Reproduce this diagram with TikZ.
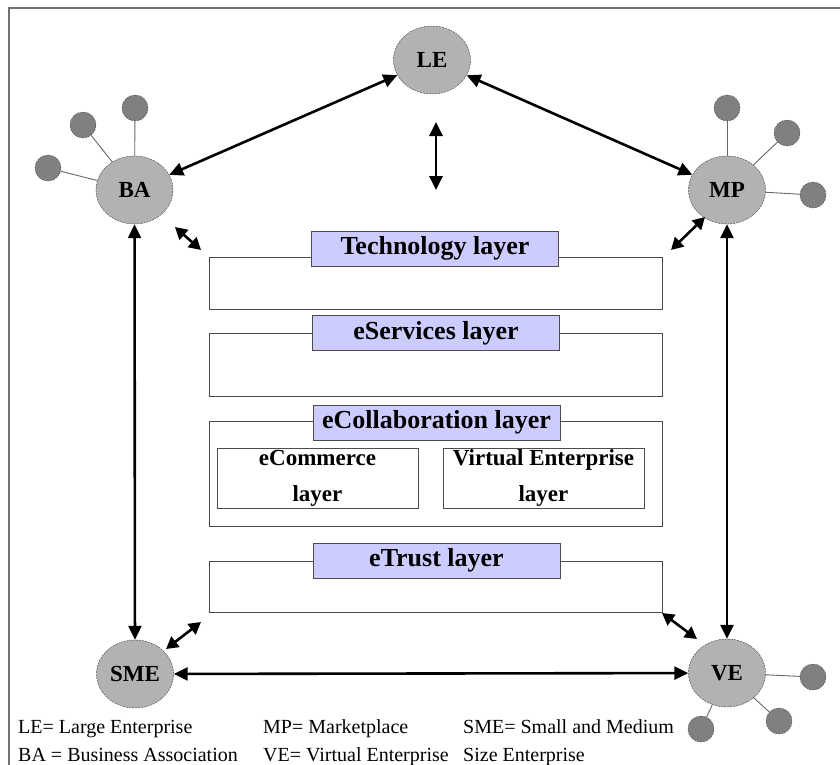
\documentclass[tikz,border=0pt]{standalone}
\usepackage{fontspec}
\setmainfont{Liberation Serif}
\usepackage{tikz}
\usetikzlibrary{arrows.meta}
\usetikzlibrary{shapes.geometric}
\definecolor{laybg}{RGB}{204,204,255}
\newcommand{\keyfont}{\fontsize{20}{24}\selectfont}

\begin{document}
\begin{tikzpicture}[x=1pt,y=-1pt,
    party/.style={ellipse,draw=black!75,dash pattern=on 2pt off 1pt,fill=black!30,minimum width=77pt,minimum height=68pt,inner sep=0pt,font=\fontsize{23}{27}\selectfont\bfseries},
    sat/.style={circle,draw=black!75,dash pattern=on 2pt off 1pt,fill=black!50,minimum size=26pt,inner sep=0pt},
    link/.style={draw=black!60,line width=0.9pt},
    dbl/.style={{Triangle[length=14pt,width=13pt]}-{Triangle[length=14pt,width=13pt]},line width=2.6pt},
    sdbl/.style={{Triangle[length=12pt,width=13pt]}-{Triangle[length=12pt,width=13pt]},line width=2.6pt},
    layerbox/.style={draw=black!70,line width=1pt,fill=white,minimum width=453pt,inner sep=0pt},
    laylbl/.style={draw=black!70,fill=laybg,line width=1pt,minimum width=247pt,minimum height=35pt,inner sep=0pt,font=\fontsize{26}{30}\selectfont\bfseries},
    subbox/.style={draw=black!70,line width=1pt,minimum width=201pt,minimum height=60pt,inner sep=0pt,align=center,font=\fontsize{23}{36}\selectfont\bfseries}]
    \useasboundingbox (0,0) rectangle (840,765);
    \draw[black!55,line width=1.5pt] (9,765) -- (9,8) -- (840,8);

    % the five parties
    \node[party] (LE) at (432,60) {LE};
    \node[party] (BA) at (134.5,190) {BA};
    \node[party] (MP) at (727,190) {MP};
    \node[party] (SME) at (135,674) {SME};
    \node[party] (VE) at (727,673) {VE};

    % members
    \node[sat] (ba1) at (135,108) {};
    \node[sat] (ba2) at (83,125) {};
    \node[sat] (ba3) at (48,168) {};
    \node[sat] (mp1) at (727,108) {};
    \node[sat] (mp2) at (787,133) {};
    \node[sat] (mp3) at (813,195) {};
    \node[sat] (ve1) at (813,677) {};
    \node[sat] (ve2) at (779,721) {};
    \node[sat] (ve3) at (701,729) {};
    \path[link] (ba1) -- (BA);
    \path[link] (ba2) -- (BA);
    \path[link] (ba3) -- (BA);
    \path[link] (mp1) -- (MP);
    \path[link] (mp2) -- (MP);
    \path[link] (mp3) -- (MP);
    \path[link] (ve1) -- (VE);
    \path[link] (ve2) -- (VE);
    \path[link] (ve3) -- (VE);

    % layers
    \node[layerbox,minimum height=52pt] (T) at (435.5,283) {};
    \node[laylbl] (Tl) at (435,248.5) {Technology layer};
    \node[layerbox,minimum height=63pt] (S) at (435.5,364.5) {};
    \node[laylbl] (Sl) at (436,333) {eServices layer};
    \node[layerbox,minimum height=105pt] (C) at (435.5,473.5) {};
    \node[laylbl] (Cl) at (436.5,422.5) {eCollaboration layer};
    \node[subbox] (EC) at (317.5,478) {eCommerce\\layer};
    \node[subbox] (VL) at (543.5,478) {Virtual Enterprise\\layer};
    \node[layerbox,minimum height=51pt] (R) at (435.5,586.5) {};
    \node[laylbl] (Rl) at (436.5,560.5) {eTrust layer};

    % relations
    \path[dbl] (BA) edge (LE);
    \path[dbl] (LE) edge (MP);
    \path[dbl] (BA) edge (SME);
    \path[dbl] (MP) edge (VE);
    \path[dbl] (SME) edge (VE);
    \coordinate (le1) at (436,122);
    \coordinate (le2) at (436,190);
    \path[dbl] (le1) edge (le2);
    \coordinate (ba4) at (175,227);
    \coordinate (ba5) at (201,250);
    \path[sdbl] (ba4) edge (ba5);
    \coordinate (mp4) at (705,217);
    \coordinate (mp5) at (671,250);
    \path[sdbl] (mp4) edge (mp5);
    \coordinate (sme1) at (166,649);
    \coordinate (sme2) at (201,622);
    \path[sdbl] (sme1) edge (sme2);
    \coordinate (ve4) at (662,613);
    \coordinate (ve5) at (697,639);
    \path[sdbl] (ve4) edge (ve5);

    % legend
    \node[anchor=base west,inner sep=0pt,font=\keyfont] (k1) at (18,733) {LE= Large Enterprise};
    \node[anchor=base west,inner sep=0pt,font=\keyfont] (k2) at (263,733) {MP= Marketplace};
    \node[anchor=base west,inner sep=0pt,font=\keyfont] (k3) at (463,733) {SME= Small and Medium};
    \node[anchor=base west,inner sep=0pt,font=\keyfont] (k4) at (18,761) {BA = Business Association};
    \node[anchor=base west,inner sep=0pt,font=\keyfont] (k5) at (263,761) {VE= Virtual Enterprise};
    \node[anchor=base west,inner sep=0pt,font=\keyfont] (k6) at (463,761) {Size Enterprise};
  \end{tikzpicture}
\end{document}
